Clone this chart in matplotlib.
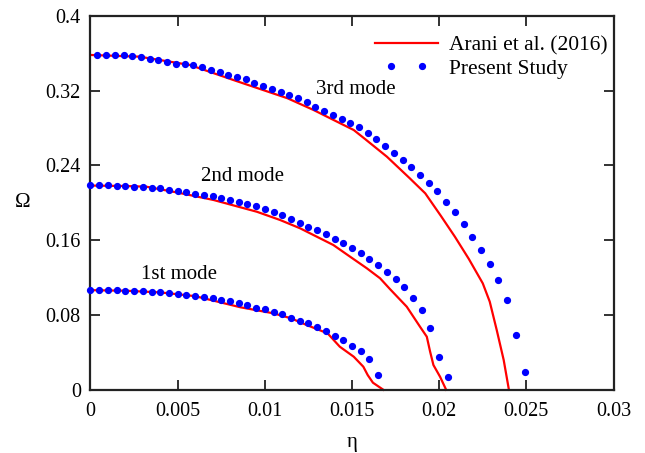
import numpy as np
import matplotlib.pyplot as plt
from matplotlib.legend_handler import HandlerLine2D

plt.rcParams['font.family'] = ['Liberation Serif', 'DejaVu Serif']

# Present Study (dots), eta step 0.0005
eta1 = np.arange(34) * 0.0005
om1 = [0.1068, 0.1068, 0.1068, 0.1064, 0.1060, 0.1057, 0.1054, 0.1050, 0.1043, 0.1034,
       0.1025, 0.1014, 0.1004, 0.0990, 0.0979, 0.0964, 0.0945, 0.0925, 0.0904, 0.0879,
       0.0860, 0.0831, 0.0808, 0.0771, 0.0739, 0.0711, 0.0669, 0.0629, 0.0579, 0.0533,
       0.0472, 0.0412, 0.0326, 0.0155]
eta2 = np.arange(42) * 0.0005
om2 = [0.2188, 0.2188, 0.2188, 0.2184, 0.2180, 0.2173, 0.2170, 0.2162, 0.2156, 0.2141,
       0.2127, 0.2113, 0.2098, 0.2084, 0.2070, 0.2052, 0.2031, 0.2009, 0.1988, 0.1963,
       0.1935, 0.1904, 0.1870, 0.1830, 0.1788, 0.1745, 0.1710, 0.1664, 0.1615, 0.1567,
       0.1514, 0.1460, 0.1398, 0.1334, 0.1260, 0.1184, 0.1098, 0.0985, 0.0854, 0.0664,
       0.0351, 0.0140]
eta3 = 0.0004 + np.arange(50) * 0.0005
om3 = [0.3582, 0.3582, 0.3582, 0.3579, 0.3574, 0.3557, 0.3539, 0.3528, 0.3504, 0.3489,
       0.3483, 0.3472, 0.3450, 0.3421, 0.3397, 0.3371, 0.3350, 0.3322, 0.3286, 0.3255,
       0.3222, 0.3190, 0.3155, 0.3119, 0.3075, 0.3029, 0.2985, 0.2940, 0.2900, 0.2858,
       0.2810, 0.2745, 0.2680, 0.2611, 0.2537, 0.2458, 0.2380, 0.2293, 0.2209, 0.2122,
       0.2013, 0.1897, 0.1772, 0.1638, 0.1496, 0.1349, 0.1172, 0.0961, 0.0587, 0.0187]

# Arani et al. (2016) (lines)
ref_eta1 = [0, 0.002, 0.004, 0.006, 0.0086, 0.0105, 0.0115, 0.0124, 0.0136, 0.0143,
            0.0151, 0.01565, 0.0159, 0.0162, 0.0168]
ref_om1 = [0.1066, 0.1060, 0.1042, 0.1002, 0.0883, 0.0818, 0.0765, 0.0693, 0.0604, 0.0461,
           0.0354, 0.0247, 0.0158, 0.0076, 0.0]
ref_eta2 = [0, 0.002, 0.0032, 0.005, 0.00705, 0.00954, 0.01087, 0.01202, 0.01298, 0.01393,
            0.01489, 0.01585, 0.01661, 0.01718, 0.01814, 0.0189, 0.01929, 0.01948, 0.01967,
            0.02005, 0.0204]
ref_om2 = [0.2185, 0.2180, 0.2173, 0.2110, 0.2031, 0.1905, 0.1817, 0.1728, 0.1638, 0.1549,
           0.1424, 0.1300, 0.1193, 0.1077, 0.0889, 0.0675, 0.0568, 0.0408, 0.0265, 0.0140, 0.0]
ref_eta3 = [0, 0.0028, 0.0057, 0.0082, 0.0113, 0.0128, 0.0151, 0.0157, 0.0170, 0.0183,
            0.0192, 0.0201, 0.0209, 0.0217, 0.0225, 0.0229, 0.0233, 0.0237, 0.0240]
ref_om3 = [0.3582, 0.3564, 0.3475, 0.3314, 0.3119, 0.2993, 0.2779, 0.2690, 0.2494, 0.2265,
           0.2102, 0.1860, 0.1638, 0.1400, 0.1139, 0.0943, 0.0640, 0.0319, 0.0]

xticks = [0, 0.005, 0.01, 0.015, 0.02, 0.025, 0.03]
xticklabels = ['0', '0.005', '0.01', '0.015', '0.02', '0.025', '0.03']
yticks = [0, 0.08, 0.16, 0.24, 0.32, 0.4]
yticklabels = ['0', '0.08', '0.16', '0.24', '0.32', '0.4']

fig, ax = plt.subplots(figsize=(6.45, 4.53), dpi=100)
fig.subplots_adjust(left=0.1403, right=0.9512, bottom=0.1395, top=0.9649)

red = '#ff0000'
blue = '#0000ff'
lines = []
for ex, ey, k in [(ref_eta1, ref_om1, 0), (ref_eta2, ref_om2, 1), (ref_eta3, ref_om3, 2)]:
    l, = ax.plot(ex, ey, color=red, lw=1.6, label='Arani et al. (2016)' if k == 0 else None,
                 zorder=2, clip_on=False)
    lines.append(l)
dots = []
for ex, ey, k in [(eta1, om1, 0), (eta2, om2, 1), (eta3, om3, 2)]:
    d, = ax.plot(ex, ey, ls='none', marker='o', ms=4.2, color=blue, mec=blue,
                 label='Present Study' if k == 0 else None, zorder=3, clip_on=False)
    dots.append(d)

ax.text(0.0152, 0.3215, '3rd mode', fontsize=15, ha='center', va='center')
ax.text(0.0087, 0.228, '2nd mode', fontsize=15, ha='center', va='center')
ax.text(0.0051, 0.1236, '1st mode', fontsize=15, ha='center', va='center')

ax.set_xlim(0, 0.03)
ax.set_ylim(0, 0.4)
ax.set_xticks(xticks)
ax.set_xticklabels(xticklabels)
ax.set_yticks(yticks)
ax.set_yticklabels(yticklabels)
ax.tick_params(direction='in', top=True, right=True, length=7, width=1.3,
               labelsize=14.5, color='#222222')
ax.tick_params(axis='x', pad=9)
ax.tick_params(axis='y', pad=7)
for s in ax.spines.values():
    s.set_linewidth(1.6)
    s.set_color('#222222')

ax.set_xlabel('η', fontsize=15)
ax.set_ylabel('Ω', fontsize=15, rotation=0)
ax.xaxis.set_label_coords(0.5, -0.142)
ax.xaxis.label.set_va('center')
ax.yaxis.set_label_coords(-0.130, 0.5)
ax.yaxis.label.set_va('center')
ax.yaxis.label.set_ha('center')

leg = ax.legend(handles=[lines[0], dots[0]], loc='upper right', bbox_to_anchor=(1.025, 1.0),
                frameon=False, fontsize=15.5, handlelength=2.9, handletextpad=0.5,
                labelspacing=0.15,
                handler_map={lines[0]: HandlerLine2D(numpoints=2, marker_pad=0),
                             dots[0]: HandlerLine2D(numpoints=2, marker_pad=0.72)})

fig.savefig('out.png', dpi=100)
